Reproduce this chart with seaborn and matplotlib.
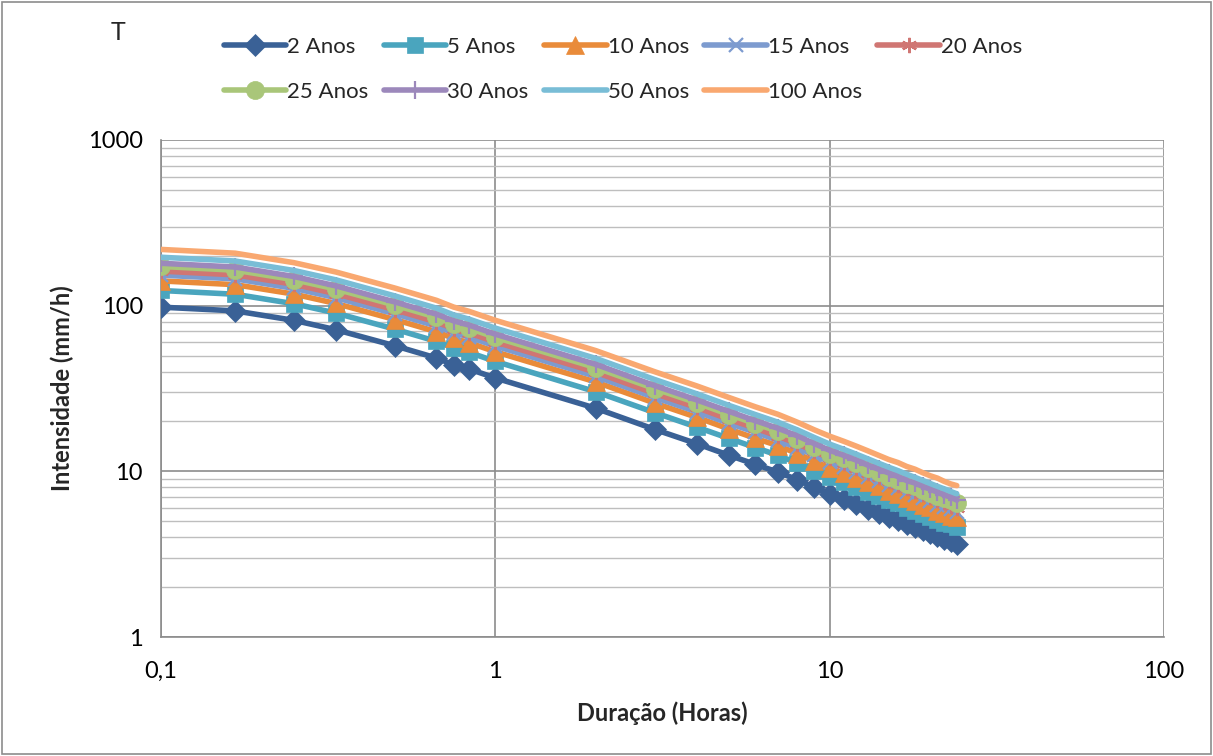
import numpy as np
import pandas as pd
import matplotlib
matplotlib.use("Agg")
import matplotlib.pyplot as plt
import matplotlib.ticker as mticker
from matplotlib.patches import Rectangle
import seaborn as sns

# ---- data ----
duracao = [0.1, 1/6, 0.25, 1/3, 0.5, 2/3, 0.75, 5/6, 1, 2, 3, 4, 5, 6, 7, 8, 9, 10,
           11, 12, 13, 14, 15, 16, 17, 18, 19, 20, 21, 22, 23, 24]

anos_2 = [98, 93, 81.5, 71.6, 57.3, 48.3, 44.0, 41.5, 36.6, 24.0, 17.9, 14.7, 12.5, 11.0, 9.9, 8.9,
          8.0, 7.3, 6.8, 6.35, 5.95, 5.6, 5.3, 5.05, 4.8, 4.6, 4.4, 4.22, 4.06, 3.92, 3.78, 3.66]
anos_5 = [123.5, 117.2, 102.7, 90.2, 72.2, 60.9, 55.4, 52.3, 46.1, 30.2, 22.6, 18.5, 15.8, 13.9, 12.5, 11.2,
          10.1, 9.2, 8.6, 8.0, 7.5, 7.1, 6.7, 6.4, 6.0, 5.8, 5.5, 5.3, 5.1, 4.9, 4.8, 4.6]
anos_10 = [141.1, 133.9, 117.4, 103.1, 82.5, 69.6, 63.4, 59.8, 52.7, 34.6, 25.8, 21.2, 18.0, 15.8, 14.3, 12.8,
           11.5, 10.5, 9.8, 9.1, 8.6, 8.1, 7.6, 7.3, 6.9, 6.6, 6.3, 6.1, 5.8, 5.6, 5.4, 5.3]
anos_15 = [152.9, 145.1, 127.1, 111.7, 89.4, 75.3, 68.6, 64.7, 57.1, 37.4, 27.9, 22.9, 19.5, 17.2, 15.4, 13.9,
           12.5, 11.4, 10.6, 9.9, 9.3, 8.7, 8.3, 7.9, 7.5, 7.2, 6.9, 6.6, 6.3, 6.1, 5.9, 5.7]
anos_20 = [161.7, 153.5, 134.5, 118.1, 94.5, 79.7, 72.6, 68.5, 60.4, 39.6, 29.5, 24.3, 20.6, 18.2, 16.3, 14.7,
           13.2, 12.0, 11.2, 10.5, 9.8, 9.2, 8.7, 8.3, 7.9, 7.6, 7.3, 7.0, 6.7, 6.5, 6.2, 6.0]
anos_25 = [172.5, 163.7, 143.4, 126.0, 100.8, 85.0, 77.4, 73.0, 64.4, 42.2, 31.5, 25.9, 22.0, 19.4, 17.4, 15.7,
           14.1, 12.8, 12.0, 11.2, 10.5, 9.9, 9.3, 8.9, 8.4, 8.1, 7.7, 7.4, 7.1, 6.9, 6.7, 6.4]
anos_30 = [180.3, 171.1, 150.0, 131.7, 105.4, 88.9, 81.0, 76.4, 67.3, 44.2, 32.9, 27.0, 23.0, 20.2, 18.2, 16.4,
           14.7, 13.4, 12.5, 11.7, 10.9, 10.3, 9.8, 9.3, 8.8, 8.5, 8.1, 7.8, 7.5, 7.2, 7.0, 6.7]
anos_50 = [196, 186, 163, 143.2, 114.6, 96.6, 88, 83, 73.2, 48, 35.8, 29.4, 25, 22, 19.8, 17.8,
           16, 14.6, 13.6, 12.7, 11.9, 11.2, 10.6, 10.1, 9.6, 9.2, 8.8, 8.44, 8.12, 7.84, 7.56, 7.32]
anos_100 = [218.5, 207.4, 181.7, 159.7, 127.8, 107.7, 98.1, 92.5, 81.6, 53.5, 39.9, 32.8, 27.9, 24.5, 22.1, 19.8,
            17.8, 16.3, 15.2, 14.2, 13.3, 12.5, 11.8, 11.3, 10.7, 10.3, 9.8, 9.4, 9.1, 8.7, 8.4, 8.2]

series_names = ["2 Anos", "5 Anos", "10 Anos", "15 Anos", "20 Anos",
                "25 Anos", "30 Anos", "50 Anos", "100 Anos"]
series_values = [anos_2, anos_5, anos_10, anos_15, anos_20, anos_25, anos_30, anos_50, anos_100]

x_ticks = [0.1, 1, 10, 100]
x_tick_labels = ["0,1", "1", "10", "100"]
y_ticks = [1, 10, 100, 1000]
y_tick_labels = ["1", "10", "100", "1000"]

# ---- styles ----
colors = ["#3A6196", "#4AA5BE", "#E98B3A", "#7D9BCF", "#D07673",
          "#A9C679", "#9C88BB", "#79BDD6", "#F9A870"]
markers = ["D", "s", "^", "x", (6, 2, 0), "o", "+", "", ""]
msizes = [11.5, 12, 13, 10, 11, 13, 13, 0, 0]

sns.set_theme(style="white")
plt.rcParams["font.family"] = ["Lato", "DejaVu Sans"]

fig = plt.figure(figsize=(12.13, 7.56), dpi=100)
ax = fig.add_axes([161/1213, 1-637/756, (1164-161)/1213, (637-140)/756])

rows = []
for name, vals in zip(series_names, series_values):
    for d, v in zip(duracao, vals):
        rows.append({"Duracao": d, "Intensidade": v, "T": name})
df = pd.DataFrame(rows)

for i, name in enumerate(series_names):
    sub = df[df["T"] == name]
    mk = markers[i]
    kw = dict(color=colors[i], linewidth=4.0, label=name, zorder=3 + i)
    if mk != "":
        thin = mk in ("x", "+") or isinstance(mk, tuple)
        kw.update(marker=mk, markersize=msizes[i], markeredgewidth=1.6 if thin else 0.5,
                  markeredgecolor=colors[i], markerfacecolor=colors[i])
    sns.lineplot(data=sub, x="Duracao", y="Intensidade", ax=ax, sort=False, estimator=None, **kw)

ax.set_xscale("log")
ax.set_yscale("log")
ax.set_xlim(0.1, 100)
ax.set_ylim(1, 1000)

ax.xaxis.set_major_locator(mticker.FixedLocator(x_ticks))
ax.xaxis.set_major_formatter(mticker.FixedFormatter(x_tick_labels))
ax.xaxis.set_minor_locator(mticker.NullLocator())
ax.yaxis.set_major_locator(mticker.FixedLocator(y_ticks))
ax.yaxis.set_major_formatter(mticker.FixedFormatter(y_tick_labels))
ax.yaxis.set_minor_locator(mticker.LogLocator(base=10, subs=np.arange(2, 10)))
ax.yaxis.set_minor_formatter(mticker.NullFormatter())

ax.grid(True, which="major", axis="both", color="#8C8C8C", linewidth=1.2, zorder=0)
ax.grid(True, which="minor", axis="y", color="#BEBEBE", linewidth=1.0, zorder=0)
ax.set_axisbelow(True)

for s in ["top", "right"]:
    ax.spines[s].set_visible(False)
for s in ["left", "bottom"]:
    ax.spines[s].set_color("#8C8C8C")
    ax.spines[s].set_linewidth(1.2)

ax.tick_params(axis="both", which="major", direction="inout", length=10, width=1.2,
               color="#8C8C8C", labelsize=17, labelcolor="black", pad=8)
ax.tick_params(axis="x", which="major", direction="out", length=7, pad=10)
ax.tick_params(axis="y", which="minor", direction="in", length=5, width=1.0, color="#8C8C8C")

ax.set_xlabel("Duração (Horas)", fontsize=17, fontweight="bold", labelpad=14)
ax.set_ylabel("Intensidade (mm/h)", fontsize=17, fontweight="bold", labelpad=10)

handles, labels = ax.get_legend_handles_labels()
leg = ax.get_legend()
if leg is not None:
    leg.remove()
# row-major order for a 5-column, 2-row legend
order = [0, 5, 1, 6, 2, 7, 3, 8, 4]
fig.legend([handles[k] for k in order], [labels[k] for k in order], ncol=5, loc="upper left",
           bbox_to_anchor=(224/1213, 1-37/756),
           frameon=False, fontsize=16, handlelength=2.8, handletextpad=0.05,
           columnspacing=0.7, labelspacing=1.12, borderaxespad=0, borderpad=0, numpoints=1)

fig.text(118/1213, 1-32/756, "T", fontsize=18, ha="center", va="center")

fig.patches.append(Rectangle((2/1213, 2/756), 1209/1213, 752/756, transform=fig.transFigure,
                             fill=False, edgecolor="#8C8C8C", linewidth=1.2))

fig.savefig("out.png", dpi=100)
